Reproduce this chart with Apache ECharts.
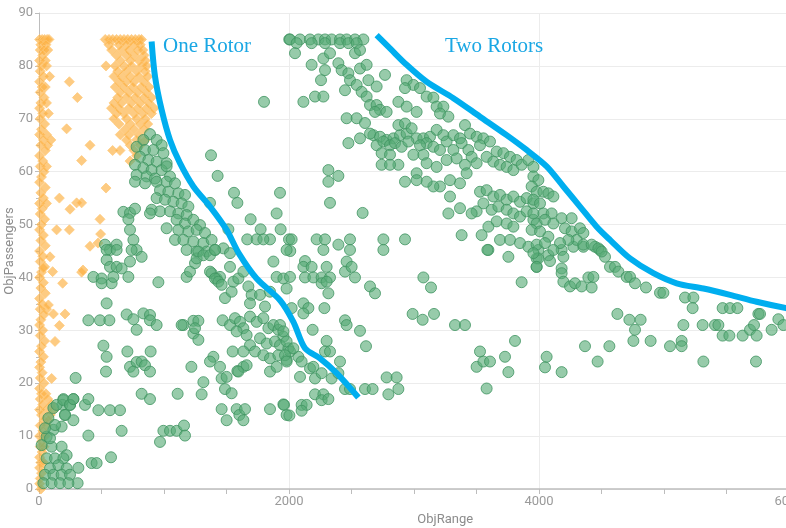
<!DOCTYPE html>
<html><head><meta charset="utf-8">
<script src="https://cdn.jsdelivr.net/npm/echarts@6/dist/echarts.min.js"></script>
<style>html,body{margin:0;padding:0;background:#fff}#c{width:786px;height:528px}</style>
</head><body><div id="c"></div>
<script>
// orange diamonds (x = ObjRange, y = ObjPassengers)
const orangePoints = [
[5,85],[25,85],[45,85],[65,85],[80,85],[15,84],[55,84],[10,83],[40,83],[70,83],[30,82],[5,81],[50,81],[20,80],[60,80],[10,79],[35,78],[85,78],[5,77],[25,76],[50,76],[10,75],[40,74],[15,73],[60,73],[5,72],[30,71],[75,71],[10,70],[45,69],[20,68],[5,67],[60,67],[35,66],[95,66],[15,65],[70,65],[50,64],[5,63],[30,62],[10,61],[60,61],[40,60],[20,59],[5,58],[50,57],[15,56],[35,55],[5,54],[60,54],[25,53],[10,52],[45,51],[20,50],[5,49],[35,48],[15,47],[50,46],[5,45],[30,44],[10,43],[45,42],[20,41],[5,40],[35,39],[15,38],[50,37],[5,36],[25,35],[10,34],[60,34],[40,33],[15,32],[5,31],[30,30],[10,29],[45,28],[20,27],[5,26],[35,25],[15,24],[5,23],[25,22],[10,21],[40,20],[5,19],[20,18],[55,18],[10,17],[70,17],[30,16],[100,16],[5,15],[60,15],[120,15],[20,14],[90,14],[40,13],[75,13],[10,12],[60,12],[30,11],[5,10],[50,10],[20,9],[10,8],[40,8],[25,7],[5,6],[15,5],[35,5],[5,4],[20,3],[10,2],[5,1],[15,0],
[243,77],[307,74],[221,68.1],[408,65],[341,62.1],[163,55],[248,52.9],[301,54.1],[341,54.1],[141,49],[243,49],[352,41.4],[88,43.9],[35,41.8],[341,41],[109,41.1],[189,38.9],[208,33.1],[115,33.1],[163,30.9],[128,27.9],[75,34.8],[101,20.9],
[536,56.9],[488,51],[493,48.2],[472,46.5],[408,45.9],
[530,85],[560,85],[590,85],[620,85],[650,85],[680,85],[710,85],[740,85],[770,85],[800,85],[820,85],
[560,84],[640,84],[700,84],[760,84],[810,84],[581,83],[660,83],[720,83],[790,83],[830,83],
[620,82],[700,82],[760,82],[840,82],[650,81],[730,81],[800,81],[850,81],
[536,80],[610,80],[680,80],[740,80],[820,80],[860,80],[630,79],[700,79],[780,79],[850,79],
[600,78],[660,78],[730,78],[800,78],[870,78],[640,77],[700,77],[760,77],[840,77],
[610,76],[680,76],[750,76],[820,76],[880,76],[650,75],[720,75],[790,75],[860,75],
[630,74],[700,74],[770,74],[840,74],[900,74],[600,73],[660,73],[740,73],[810,73],[880,73],
[580,72],[640,72],[720,72],[790,72],[860,72],[920,72],[620,71],[680,71],[760,71],[830,71],[900,71],
[600,70],[700,70],[780,70],[850,70],[640,69],[730,69],[810,69],[870,69],
[690,68],[760,68],[840,68],[650,67],[720,67],[800,67],[700,66],[780,66],[850,66],
[730,65],[810,65],[589,64],[648,64],[760,64],[780,63],[728,62]
];

// green circles
const greenPoints = [
[2002,85],[1800,73.2],[1376,63.1],[1429,59.2],[1560,56],[1587,54.1],[1928,56],[1368,54.1],[1901,52.1],[1693,51],[1515,49.1],[1773,49.1],[1848,47.2],[1666,47.2],[1741,47.2],[1795,47.2],[1933,49.1],[2000,47.2],[2010,45],
[888,67.1],[835,66],[941,66],[981,65],[781,64.7],[848,64.1],[915,64.1],[995,63.5],[808,62.8],[875,62.2],[941,61.9],[1021,61.6],[768,61.3],[835,60.7],[901,60.3],[981,60.3],[781,59.4],[861,59.1],[928,58.7],[1021,61],[768,58.1],[848,57.8],[941,58.1],[1048,59.1],
[1021,58.1],[1088,57.8],[968,56.5],[1035,56.2],[1115,55.9],[1168,55.6],[941,55],[1008,54.7],[1075,54.3],[1141,54],[1195,53.4],[901,52.8],[968,52.5],[1048,52.5],[1115,52.1],[1181,51.8],[888,52.1],
[1021,49.3],[1101,50.9],[1168,50.2],[1235,50.9],[1288,49.9],[1115,49],[1195,48.7],[1261,49],[1328,48.4],[1088,47.1],[1155,47.1],[1235,46.8],[1315,46.5],[1381,47.1],[1181,45.2],[1261,44.9],[1341,44.9],[1408,45.2],[1475,45.5],[1528,44.6],
[675,52.4],[728,52.2],[768,53],[715,51],[728,49],[755,47.1],[781,45.2],[528,46.2],[568,45.2],[621,46.2],
[541,45.2],[621,45.2],[741,45.2],[541,43.3],[568,42],[621,42],[661,41.7],[728,43],[821,43.9],
[435,40.1],[501,39.8],[501,38.9],[581,38.9],[595,40.1],[715,40.1],[955,39.1],[541,35.1],[395,31.9],[488,31.9],[563,31.9],
[701,33],[755,32.1],[781,30.1],[835,33.2],[888,32.9],[888,31.9],[941,31],[515,27.1],[541,25],[536,22.2],[707,26],[893,26],
[728,23.1],[781,24],[821,24.1],[848,23.4],[888,22.2],[755,22.2],[293,21],[821,18],[888,17],[1109,18],
[195,17],[275,17],[187,15.9],[248,15.9],[115,15.3],[208,14],[275,13],[368,15.9],[395,17],[475,14.9],[568,14.9],[648,14.9],
[661,11],[395,10.1],[576,6],[421,4.9],[461,4.9],[315,4],[309,1.1],[968,8.9],[995,11],[1048,11],[1101,11],[1160,12],[1168,10.1],
[1219,23.1],[1155,31],[1141,31],[1235,31.8],[1275,31.8],[1235,29.4],[1275,28.2],[1248,30.4],[1315,20.2],[1301,17.9],
[1395,25],[1368,24.1],[1448,23.1],[1461,20.9],[1501,21.2],[1488,18.9],[1541,18.1],
[1461,15.1],[1501,13],[1581,15.1],[1603,14],[1635,13],[1648,15.1],[1848,15.1],[1955,16],[1981,14],
[1549,26],[1587,22.3],[1635,23.1],[1381,40.8],[1421,39.8],[1448,40.1],
[1181,40.1],[1208,41.1],[1248,42.7],[1261,43.6],[1275,44.9],[1315,44.2],[1368,44.2],[1408,45.2],[1368,41.1],[1408,39.8],[1435,39.2],[1461,38.6],[1488,36.1],[1541,37.3],[1555,39.2],[1595,39.8],[1528,42],[1635,41.1],[1675,38.3],[1701,36.7],[1688,35.1],[1768,36.7],[1808,34.5],[1848,37.3],[1875,43],[1901,40.1],[1955,39.8],
[1469,31.9],[1528,31],[1568,32.3],[1608,31.6],[1635,30.4],[1581,29.8],[1661,29.1],[1688,32.6],[1741,31.6],[1795,32.3],[1835,30.4],[1875,31],[1915,30.1],[1955,28.8],[1768,28.5],[1821,27.5],[1888,27.9],[1928,27.2],[1995,26.6],[1688,27.2],[1728,26],[1795,25.3],[1848,24.7],[1915,25.3],[1981,24.4],[1848,22.2],[1901,23.1],[1635,26],[1595,22.2],[1661,23.4],
[61,9.9],[115,11.2],[181,11.8],[208,14],[101,8],[181,8],[221,6.4],[61,5.8],[128,5.8],[195,5.8],[88,3.9],[155,4.5],[221,3.9],[48,2.7],[115,2.7],[181,2.7],[248,2.7],[35,1.1],[101,1.1],[168,1.1],[235,1.1],[21,8.3],[75,13.4],[141,15.9],[195,16.8],[248,15.9],[275,17],[88,9.6],[128,12.1],[48,11.5],
[2008,85],[2088,85],[2168,85],[2235,85],[2288,85],[2341,85],[2408,85],[2461,85],[2528,85],[2595,85],[2061,84.3],[2181,84.3],[2288,84.3],[2408,84.3],[2475,84.3],[2541,84.3],
[2048,82.4],[2275,81.4],[2328,82.4],[2181,80.2],[2288,79.2],[2395,80.5],[2421,79.2],[2475,78.6],[2568,79.5],[2621,80.2],[2528,82.4],[2568,83],[2768,78.3],
[2256,77.3],[2488,77.3],[2541,76.4],[2635,77.3],[2701,76.1],[2115,73.2],[2208,74.2],[2275,74.2],[2448,75.4],[2581,75.1],[2621,74.2],[2648,72.6],[2701,72.6],[2728,71.7],[2781,71.3],[2688,71.3],
[2461,70.1],[2541,70.1],[2608,69.2],[2475,65.4],[2568,66.3],
[2941,77.3],[2995,76.4],[3048,75.8],[2928,75.8],[2875,73.2],[2941,72.3],[3021,71.3],[3101,74.2],[3155,74],[3181,72.3],[3235,72.3],[3208,71],[3275,70.4],
[2675,66.9],[2728,66.6],[2781,66],[2835,66.3],[2888,66.9],[2941,67.2],[2875,68.8],[2928,69.1],[2981,68.2],[3021,66.3],[3075,66.3],[3128,66.6],[3101,65.4],[3181,67.9],[3235,66.9],[3261,65.7],[3315,66.9],[3368,66.3],[3408,68.8],[3448,67.2],[3501,66.6],[3555,66.3],[3528,65],[3608,65.7],[3661,63.8],[3715,63.5],[3768,62.8],[3821,62.2],
[2648,67.2],[2701,65],[2755,65.7],[2808,65],[2848,65.4],[2901,64.7],[2955,65.7],[3048,65],[3155,64.7],[3208,64.1],[3315,64.1],[3381,65.4],[3435,64.1],[3461,62.8],[3581,62.8],[3635,61.9],[3688,61.3],[3741,60.9],[3795,60.3],[3861,61.3],[3915,62.2],[3955,60.9],
[2741,63.5],[2808,63.2],[2875,61.3],[2741,61.3],[2808,61.3],[2995,63.2],[3075,63.2],[3101,61.6],[3181,60.9],[3261,62.2],[3341,62.5],[3408,61.3],[3501,61.6],[3421,59.7],[3368,57.8],[3288,58.4],[3208,57.2],[3155,57.2],[3101,58.1],[3021,59.7],[2928,58.1],[3021,58.4],
[3528,56.2],[3581,56.5],[3635,55.3],[3688,55.6],[3741,54.7],[3795,55.3],[3848,54.3],[3901,55],[3955,54],[3555,54],[3621,52.8],[3675,53.4],[3741,52.8],[3795,52.1],[3848,51.5],[3901,52.5],[3955,50.9],[3661,50.6],[3741,50.2],[3795,49.6],[3595,49.6],[3501,52.5],[3461,52.1],[3368,53.1],[3275,52.1],[3288,55.3],[3688,47.1],[3768,47.1],[3848,46.5],[3381,48],[3541,48],[3595,45.2],
[2315,60.3],[2315,58.1],[2395,59.2],[2328,54.1],[2589,52.2],
[2021,47.2],[2221,47.2],[2288,47.2],[2395,46.2],[2488,47.2],[2755,47.2],[2928,47.2],[1981,45.2],[2275,45.2],[2488,45.2],[2755,45.2],
[3587,45.2],[3755,43.9],[3915,45.8],[3981,43.6],[3981,42],
[2128,43.1],[2115,42],[2181,42],[2128,40],[2195,40],[2261,40],[2328,40],[2261,38.9],[2301,39.2],[2315,37],[2301,42],[2008,40.1],
[2461,43],[2448,41.1],[2528,40],[2501,42],[1981,37.9],[2648,38.3],[2688,37],[3075,40],[3136,38.1],[3861,39.1],
[2021,34.2],[2115,35.1],[2155,34.2],[2115,33.2],[2283,34.2],[2448,31.9],[2461,31],[2568,29.9],[2616,27],
[2989,33.1],[3069,32],[3160,33.1],[3328,31],[3408,31],[2189,30.1],[2301,28],[2288,26],[2328,26],[2408,24.1],
[3528,26],[3501,23.1],[3555,24.1],[3608,24.1],[3728,25],[3808,28],[3755,22.1],[3581,19],
[1928,31],[1955,29.8],[1981,27.9],[2008,26],[2075,25],[2101,24.1],[2168,22.8],[2208,20.9],[2261,21.9],[2341,20.9],[2395,21.9],[2088,21.2],[2195,23.1],[1968,25.3],[2035,26.6],[1981,24.1],
[2448,18.9],[2488,18.9],[2608,18.9],[2669,18.9],[2781,21.1],[2861,21.1],[2795,17.9],[2875,18.9],
[2208,17.9],[2275,17.9],[2261,16.8],[2315,17],[1960,15.9],[2003,13.9],[2101,15.9],[2141,15.9],[2101,14.8],
[3995,45.2],[3995,43.6],[3981,42],[4075,44.2],[4088,43.1],[4181,45.2],[4195,43.9],[4181,41.7],[4181,40.8],[4195,39.2],[4248,38.3],[4288,38.9],[4341,38.3],[4395,40],[4435,40.1],[4421,38.1],[4275,45.8],[4355,45.8],[4448,45.8],[4488,45.2],[4528,43.9],[4568,42],[4608,42],[4635,41.1],[4701,40.1],[4728,40.1],[4768,38.9],[4856,38.1],[4968,37.1],[4995,37.1],[5168,36.2],[5235,36.2],[5229,34.2],[5469,34.2],[5528,34.2],[5587,34.2],[5755,33.1],[5768,33.1],[5915,32.1],[5955,31],[5861,30.1],
[4061,25],[4048,23],[4181,22.1],[4368,27],[4469,24.1],[4563,27],[4627,33.1],[4723,32],[4813,32],[4768,30.1],[4755,28],[4893,28],[5048,27],[5141,28],[5141,27],[5155,31],[5309,31],[5408,31],[5435,31],[5469,29],[5523,29],[5629,29],[5688,30.1],[5720,31],[5741,29],[5315,24.1],[5736,24.1],
[3955,59.1],[3995,58.4],[3941,57.2],[3981,56.2],[4035,56.2],[4075,55.9],[4115,55.3],[3955,54.7],[4008,54],[3955,52.1],[4035,52.1],[4101,52.1],[4181,51.2],[4261,51.2],[3981,50.2],[4048,50.9],[4115,50.2],[3941,49],[4008,48.7],[4075,47.7],[4208,49.3],[4261,48.7],[4328,49.3],[4355,48.4],[4301,47.1],[4235,47.1],[4168,46.5],[4355,46.2],[4421,46.2],[4475,45.5],[4501,44.9],[3981,46.2],[4048,46.5],[4115,45.2],[3955,44.6]
];

const oneRotorCurve = [[901,84.6],[928,78],[981,71.7],[1048,66],[1128,61.6],[1235,57.2],[1368,53.4],[1501,49],[1600,44.5],[1741,39.8],[1928,35.7],[2035,31.6],[2128,26.6],[2248,24.7],[2381,21.9],[2555,17.3]];
const twoRotorCurve = [[2701,85.8],[2808,83.3],[2941,80.2],[3101,77],[3315,73.9],[3528,70.4],[3741,66.9],[3901,64.1],[4061,61],[4195,57.2],[4328,53.4],[4461,49.6],[4568,47.1],[4728,43.6],[4915,40.8],[5101,38.9],[5315,37.9],[5528,36.7],[5741,35.4],[5976,34.2],[6200,33.3]];
const curveLabels = [{name:'One Rotor', coord:[992,83.6]}, {name:'Two Rotors', coord:[3248,83.6]}];

const chart = echarts.init(document.getElementById('c'), null, {renderer:'canvas'});
const gray = '#9a9a9a';
chart.setOption({
  animation:false,
  grid:{left:39, top:13, width:812.5, height:476, containLabel:false, outerBoundsMode:'none'},
  xAxis:{type:'value', min:0, max:6500, interval:2000, name:'ObjRange', nameLocation:'middle', nameGap:24, nameMoveOverlap:false,
    nameTextStyle:{color:'#8c8c8c', fontSize:13, fontFamily:'Roboto'},
    axisLine:{show:true, lineStyle:{color:'#bdbdbd', width:1.5}},
    axisTick:{show:true, length:5, lineStyle:{color:'#bdbdbd'}},
    minorTick:{show:true, splitNumber:4, length:5, lineStyle:{color:'#bdbdbd'}},
    axisLabel:{color:gray, fontSize:13, fontFamily:'Roboto', margin:6, formatter:v=>String(v)},
    splitLine:{show:true, lineStyle:{color:'#ececec'}}},
  yAxis:{type:'value', min:0, max:90, interval:10, name:'ObjPassengers', nameLocation:'middle', nameGap:23, nameMoveOverlap:false,
    nameTextStyle:{color:'#8c8c8c', fontSize:13, fontFamily:'Roboto'},
    axisLine:{show:true, lineStyle:{color:'#bdbdbd', width:1}},
    axisTick:{show:true, length:4, lineStyle:{color:'#bdbdbd'}},
    minorTick:{show:true, splitNumber:2, length:3, lineStyle:{color:'#bdbdbd'}},
    axisLabel:{color:gray, fontSize:13, fontFamily:'Roboto', margin:6},
    splitLine:{show:true, lineStyle:{color:'#ececec'}}},
  series:[
    {type:'scatter', data:orangePoints, symbol:'diamond', symbolSize:10,
      itemStyle:{color:'rgba(252,176,64,0.82)', borderColor:'rgba(253,200,120,0.9)', borderWidth:1}},
    {type:'scatter', data:greenPoints, symbol:'circle', symbolSize:11,
      itemStyle:{color:'rgba(88,172,118,0.78)', borderColor:'#3f9460', borderWidth:1}},
    {type:'line', data:oneRotorCurve, showSymbol:false, smooth:0.3, lineStyle:{color:'#00AEEF', width:6},
      markPoint:{symbol:'circle', symbolSize:0, data:curveLabels.slice(0,1),
        label:{show:true, position:'right', distance:0, formatter:'{b}', color:'#1AA7E4', fontSize:21, fontFamily:'Liberation Serif'}}},
    {type:'line', data:twoRotorCurve, showSymbol:false, smooth:0.3, lineStyle:{color:'#00AEEF', width:6},
      markPoint:{symbol:'circle', symbolSize:0, data:curveLabels.slice(1),
        label:{show:true, position:'right', distance:0, formatter:'{b}', color:'#1AA7E4', fontSize:21, fontFamily:'Liberation Serif'}}}
  ]
});
</script></body></html>
